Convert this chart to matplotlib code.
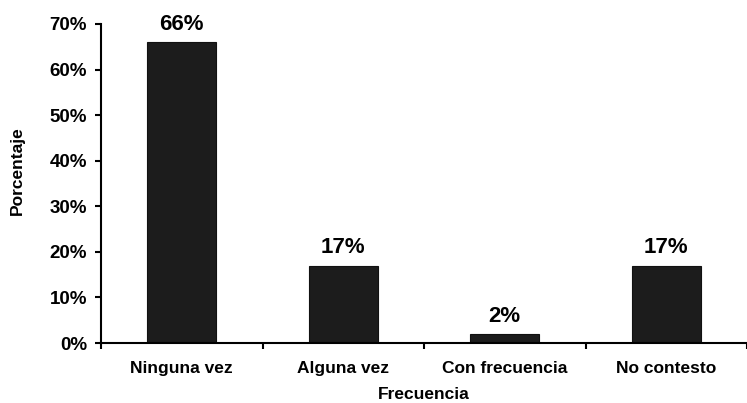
import matplotlib.pyplot as plt
import numpy as np

categorias = ["Ninguna vez", "Alguna vez", "Con frecuencia", "No contesto"]
porcentajes = [66, 17, 2, 17]
etiquetas = ["66%", "17%", "2%", "17%"]

plt.rcParams['font.family'] = ['Liberation Sans', 'DejaVu Sans']

fig = plt.figure(figsize=(7.47, 4.03), dpi=100)
ax = fig.add_axes([101/747, 1 - 343/403, 1 - 101/747, (343 - 24)/403])

x = np.arange(len(categorias))
ax.bar(x, porcentajes, width=0.43, color="#1c1c1c", edgecolor="#111111", linewidth=0.8)

for xi, v, lab in zip(x, porcentajes, etiquetas):
    ax.text(xi, v + 1.6, lab, ha="center", va="bottom", fontsize=16, fontweight="bold")

ax.set_xlim(-0.5, len(categorias) - 0.5)
ax.set_ylim(0, 70)
ax.set_yticks(np.arange(0, 71, 10))
ax.set_yticklabels([f"{t}%" for t in range(0, 71, 10)], fontsize=13.5, fontweight="bold")

# ticks at category boundaries, labels at centres
ax.set_xticks(np.arange(-0.5, len(categorias) - 0.4, 1))
ax.set_xticklabels([])
ax.set_xticks(x, minor=True)
ax.set_xticklabels(categorias, minor=True, fontsize=12.5, fontweight="bold")
ax.tick_params(axis="x", which="minor", length=0, pad=13)
ax.tick_params(axis="x", which="major", length=4, width=1.5, direction="out")
ax.tick_params(axis="y", length=4, width=1.5, direction="out", pad=6)

for s in ["top", "right"]:
    ax.spines[s].set_visible(False)
for s in ["left", "bottom"]:
    ax.spines[s].set_linewidth(1.5)

ax.set_ylabel("Porcentaje", fontsize=12.5, fontweight="bold")
ax.yaxis.set_label_coords(-0.118, 0.54)
ax.set_xlabel("Frecuencia", fontsize=12.5, fontweight="bold")
ax.xaxis.set_label_coords(0.5, -0.138)

fig.savefig("out.png", dpi=100)
